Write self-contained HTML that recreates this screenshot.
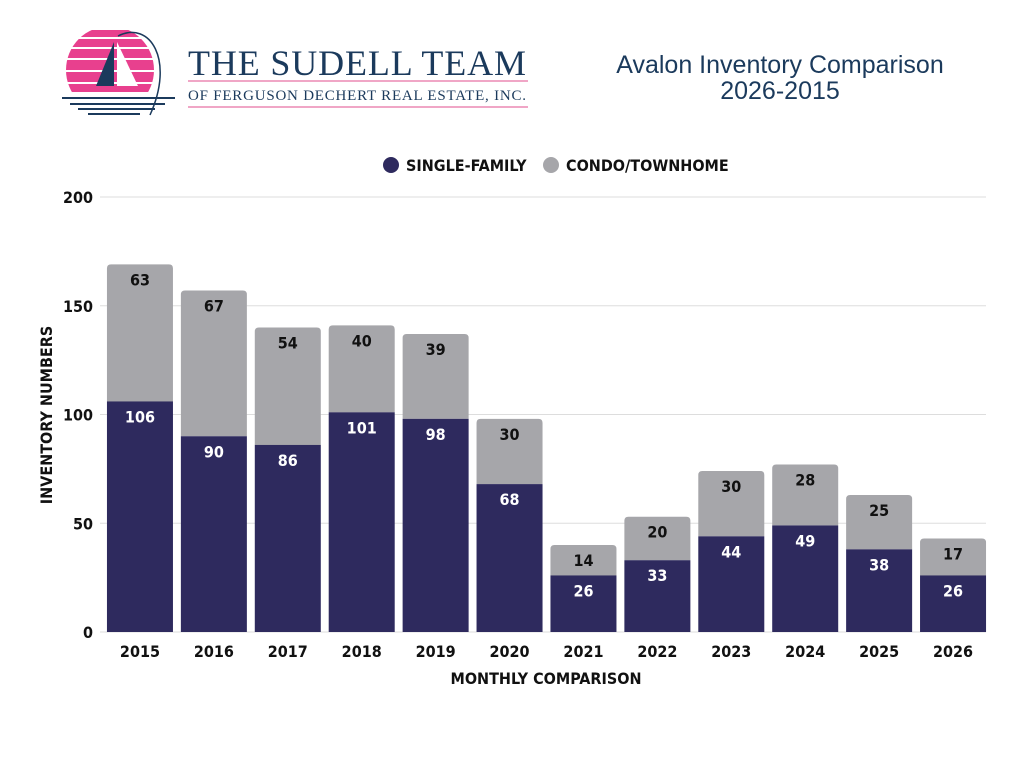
<!DOCTYPE html>
<html><head><meta charset="utf-8"><style>
body{margin:0;background:#fff;width:1024px;height:768px;overflow:hidden;font-family:"Liberation Sans Narrow","DejaVu Sans Condensed","Liberation Sans",sans-serif}
text{font-family:"Liberation Sans Narrow","DejaVu Sans Condensed","Liberation Sans",sans-serif}
</style></head><body>
<svg width="1024" height="768">
<g>
  <clipPath id="sun"><circle cx="110" cy="70" r="44"/></clipPath>
  <g clip-path="url(#sun)">
    <rect x="60" y="30" width="120" height="7" fill="#e8408e"/>
    <rect x="60" y="39" width="120" height="8" fill="#e8408e"/>
    <rect x="60" y="49" width="120" height="9" fill="#e8408e"/>
    <rect x="60" y="60" width="120" height="10" fill="#e8408e"/>
    <rect x="60" y="72" width="120" height="10" fill="#e8408e"/>
    <rect x="60" y="84" width="120" height="8" fill="#e8408e"/>
  </g>
  <path d="M118 36 C150 20,175 60,150 115" fill="none" stroke="#1b3a5c" stroke-width="1.5"/>
  <polygon points="114,42 96,86 114,86" fill="#1b3a5c"/>
  <polygon points="117,42 117,86 138,86" fill="#fff"/>
  <path d="M62 98 H175 M70 104 H165 M78 109 H155 M88 114 H140" stroke="#1b3a5c" stroke-width="2"/>
  <text x="188" y="75" font-size="36" fill="#1b3a5c" style="font-family:'Liberation Serif',serif" textLength="338">THE SUDELL TEAM</text>
  <rect x="188" y="80" width="340" height="2" fill="#f0a6c6"/>
  <text x="188" y="100" font-size="15" fill="#1b3a5c" style="font-family:'Liberation Serif',serif" textLength="338">OF FERGUSON DECHERT REAL ESTATE, INC.</text>
  <rect x="188" y="106" width="340" height="2" fill="#f0a6c6"/>
</g>
<text x="780" y="73" text-anchor="middle" font-size="25" fill="#1b3a5c" style="font-family:'Liberation Sans',sans-serif">Avalon Inventory Comparison</text>
<text x="780" y="99" text-anchor="middle" font-size="25" fill="#1b3a5c" style="font-family:'Liberation Sans',sans-serif">2026-2015</text>
<g>
  <circle cx="391" cy="165" r="8" fill="#2e2a5e"/>
  <text x="406" y="171" font-size="16" font-weight="bold" fill="#111">SINGLE-FAMILY</text>
  <circle cx="551" cy="165" r="8" fill="#a6a6aa"/>
  <text x="566" y="171" font-size="16" font-weight="bold" fill="#111">CONDO/TOWNHOME</text>
</g>
<g id="grid"></g><g id="bars"></g><g id="axes"></g>
<text transform="translate(52,415) rotate(-90)" text-anchor="middle" font-size="16" font-weight="bold" fill="#111">INVENTORY NUMBERS</text>
<text x="546" y="684" text-anchor="middle" font-size="16" font-weight="bold" fill="#111">MONTHLY COMPARISON</text>
</svg>
<script>
const years=["2015","2016","2017","2018","2019","2020","2021","2022","2023","2024","2025","2026"];
const singleFamily=[106,90,86,101,98,68,26,33,44,49,38,26];
const condo=[63,67,54,40,39,30,14,20,30,28,25,17];
const yTicks=[0,50,100,150,200];
const NS="http://www.w3.org/2000/svg";
const L=103,R=990,B=632,T=197,MAX=200;
const band=(R-L)/years.length,bw=66;
const y=v=>B-v/MAX*(B-T);
const xc=i=>L+band*(i+0.5);
function mk(t,a,p){const e=document.createElementNS(NS,t);for(const k in a)e.setAttribute(k,a[k]);p.appendChild(e);return e;}
const grid=document.getElementById('grid'),bars=document.getElementById('bars'),axes=document.getElementById('axes');
yTicks.forEach(v=>{
  const l=mk('line',{x1:100,x2:986,y1:y(v),y2:y(v),stroke:'#ddd','stroke-width':1},grid);
  
  
  const t=mk('text',{x:93,y:y(v)+6,'text-anchor':'end','font-size':16,'font-weight':'bold',fill:'#111'},axes);
  t.textContent=v;
  
  
});
function rr(x,yt,w,h,r){return `M${x} ${yt+h}V${yt+r}Q${x} ${yt} ${x+r} ${yt}H${x+w-r}Q${x+w} ${yt} ${x+w} ${yt+r}V${yt+h}Z`;}
years.forEach((yr,i)=>{
  const x=xc(i)-bw/2,s=singleFamily[i],c=condo[i];
  const g=mk('path',{d:rr(x,y(s+c),bw,y(s)-y(s+c),4),fill:'#a6a6aa'},bars);
  
  
  const n=mk('rect',{x:x,y:y(s),width:bw,height:B-y(s),fill:'#2e2a5e'},bars);
  
  
  const t1=mk('text',{x:xc(i),y:y(s)+21,'text-anchor':'middle','font-size':16,'font-weight':'bold',fill:'#fff'},bars);
  t1.textContent=s;
  
  
  const t2=mk('text',{x:xc(i),y:y(s+c)+21,'text-anchor':'middle','font-size':16,'font-weight':'bold',fill:'#111'},bars);
  t2.textContent=c;
  
  
  const xl=mk('text',{x:xc(i),y:657,'text-anchor':'middle','font-size':16,'font-weight':'bold',fill:'#111'},axes);
  xl.textContent=yr;
  
  
});
</script>
</body></html>
